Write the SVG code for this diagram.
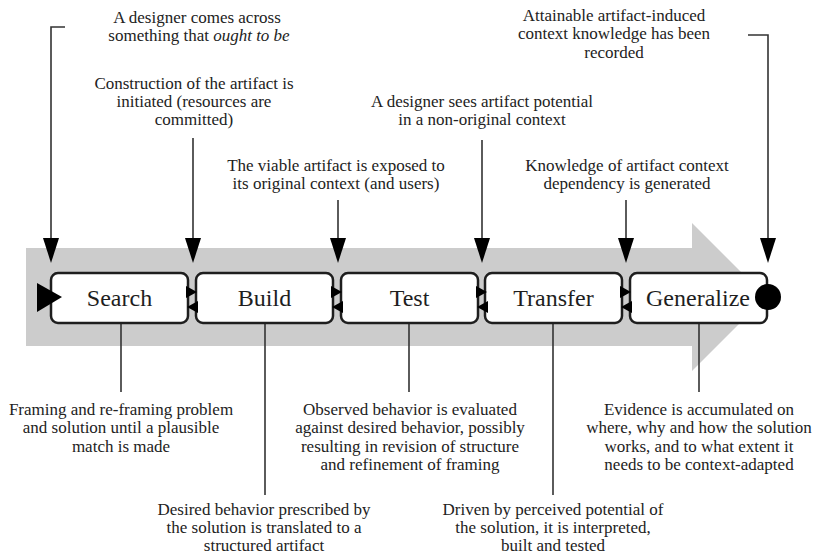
<svg xmlns="http://www.w3.org/2000/svg" width="814" height="557" viewBox="0 0 814 557">
  <style>
    .box { fill: #ffffff; stroke: #1e1e1e; stroke-width: 2.5; }
    .label { font-family: "Liberation Serif", "Times New Roman", serif; font-size: 24px; fill: #1e1e1e; text-anchor: middle; }
    .note { font-family: "Liberation Serif", "Times New Roman", serif; font-size: 17px; fill: #222222; text-anchor: middle; }
    .wire { fill: none; stroke: #333333; stroke-width: 1.6; }
    .port { fill: #000000; }
    .head { fill: #000000; }
  </style>

  <!-- process backdrop arrow -->
  <path id="flow" d="M26,248 L692,248 L692,223 L766,297 L692,371 L692,346 L26,346 Z" fill="#cccccc"/>

  <!-- connectors -->
  <g id="connectors">
    <path class="wire" d="M65,27 L51,27 L51,238"/>
    <path class="wire" d="M193,138 L193,238"/>
    <path class="wire" d="M338,200 L338,238"/>
    <path class="wire" d="M482,140 L482,238"/>
    <path class="wire" d="M626,200 L626,238"/>
    <path class="wire" d="M748,35 L768,35 L768,238"/>
    <g class="head">
      <polygon points="43,238 59,238 51,263"/>
      <polygon points="185,238 201,238 193,263"/>
      <polygon points="330,238 346,238 338,263"/>
      <polygon points="474,238 490,238 482,263"/>
      <polygon points="618,238 634,238 626,263"/>
      <polygon points="760,238 776,238 768,263"/>
    </g>
    <path class="wire" d="M121,323 L121,392"/>
    <path class="wire" d="M265,323 L265,495"/>
    <path class="wire" d="M409,323 L409,392"/>
    <path class="wire" d="M553,323 L553,495"/>
    <path class="wire" d="M699,323 L699,392"/>
  </g>

  <!-- stage nodes -->
  <g id="search">
    <rect class="box" x="51" y="273" width="137" height="50" rx="7"/>
    <text class="label" x="119.5" y="306">Search</text>
    <polygon class="port" points="37,283 62,297 37,312"/>
  </g>
  <g id="build">
    <rect class="box" x="196" y="273" width="137" height="50" rx="7"/>
    <text class="label" x="264.5" y="306">Build</text>
  </g>
  <g id="test">
    <rect class="box" x="341" y="273" width="137" height="50" rx="7"/>
    <text class="label" x="409.5" y="306">Test</text>
  </g>
  <g id="transfer">
    <rect class="box" x="485" y="273" width="137" height="50" rx="7"/>
    <text class="label" x="553.5" y="306">Transfer</text>
  </g>
  <g id="generalize">
    <rect class="box" x="630" y="273" width="137" height="50" rx="7"/>
    <text class="label" x="698" y="306">Generalize</text>
    <circle class="port" cx="768" cy="297" r="13"/>
  </g>

  <!-- ports between stages -->
  <g id="ports" class="port">
    <polygon points="186,286 197,292 186,298"/>
    <polygon points="198,301 187,307 198,313"/>
    <polygon points="331,286 342,292 331,298"/>
    <polygon points="343,301 332,307 343,313"/>
    <polygon points="476,286 487,292 476,298"/>
    <polygon points="488,301 477,307 488,313"/>
    <polygon points="620,286 631,292 620,298"/>
    <polygon points="632,301 621,307 632,313"/>
  </g>

  <!-- entry events (above) -->
  <g id="note-search-in">
    <text class="note" x="197" y="23">A designer comes across</text>
    <text class="note" x="199" y="41">something that <tspan font-style="italic">ought to be</tspan></text>
  </g>
  <g id="note-build-in">
    <text class="note" x="194" y="89">Construction of the artifact is</text>
    <text class="note" x="194" y="107">initiated (resources are</text>
    <text class="note" x="194" y="125">committed)</text>
  </g>
  <g id="note-transfer-in">
    <text class="note" x="482" y="107">A designer sees artifact potential</text>
    <text class="note" x="482" y="125">in a non-original context</text>
  </g>
  <g id="note-test-in">
    <text class="note" x="336" y="171">The viable artifact is exposed to</text>
    <text class="note" x="336" y="189">its original context (and users)</text>
  </g>
  <g id="note-generalize-in">
    <text class="note" x="627" y="171">Knowledge of artifact context</text>
    <text class="note" x="627" y="189">dependency is generated</text>
  </g>
  <g id="note-end">
    <text class="note" x="614" y="21">Attainable artifact-induced</text>
    <text class="note" x="614" y="39">context knowledge has been</text>
    <text class="note" x="614" y="58">recorded</text>
  </g>

  <!-- activity descriptions (below) -->
  <g id="note-search">
    <text class="note" x="121" y="415">Framing and re-framing problem</text>
    <text class="note" x="121" y="433">and solution until a plausible</text>
    <text class="note" x="121" y="452">match is made</text>
  </g>
  <g id="note-test">
    <text class="note" x="410" y="415">Observed behavior is evaluated</text>
    <text class="note" x="410" y="433">against desired behavior, possibly</text>
    <text class="note" x="410" y="452">resulting in revision of structure</text>
    <text class="note" x="410" y="470">and refinement of framing</text>
  </g>
  <g id="note-generalize">
    <text class="note" x="699" y="415">Evidence is accumulated on</text>
    <text class="note" x="699" y="433">where, why and how the solution</text>
    <text class="note" x="699" y="452">works, and to what extent it</text>
    <text class="note" x="699" y="470">needs to be context-adapted</text>
  </g>
  <g id="note-build">
    <text class="note" x="264" y="515">Desired behavior prescribed by</text>
    <text class="note" x="264" y="533">the solution is translated to a</text>
    <text class="note" x="264" y="551">structured artifact</text>
  </g>
  <g id="note-transfer">
    <text class="note" x="553" y="515">Driven by perceived potential of</text>
    <text class="note" x="553" y="533">the solution, it is interpreted,</text>
    <text class="note" x="553" y="551">built and tested</text>
  </g>
</svg>
